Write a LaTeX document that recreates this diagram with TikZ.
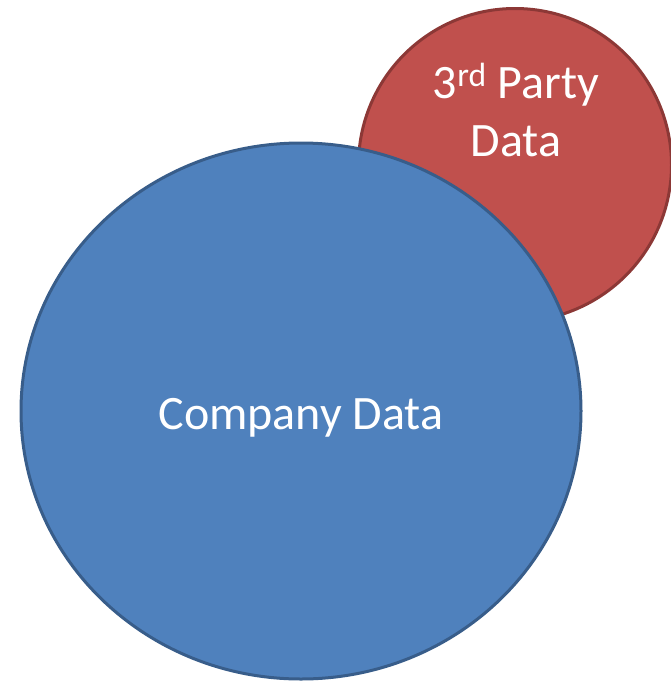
\documentclass[tikz,border=0pt]{standalone}
\usepackage{fontspec}
\setmainfont{Carlito}
\usepackage{tikz}
\usetikzlibrary{shapes.geometric}
\definecolor{partyred}{RGB}{192,80,77}
\definecolor{partyredline}{RGB}{140,56,54}
\definecolor{companyblue}{RGB}{79,129,189}
\definecolor{companyblueline}{RGB}{56,93,138}

\begin{document}
\begin{tikzpicture}[x=0.75pt,y=-0.75pt, every node/.style={font=\fontsize{36}{44}\selectfont,text=white,align=center}]
\useasboundingbox (0,0) rectangle (671,682);
\node[draw=partyredline,fill=partyred,line width=2.25pt,circle,minimum size=313*0.75pt] (party) at (515,165) {};
\node[draw=companyblueline,fill=companyblue,line width=2.25pt,ellipse,minimum width=560*0.75pt,minimum height=536*0.75pt] (company) at (301,411) {};
\node (partytxt) at (516,110) {3\textsuperscript{rd} Party\\Data};
\node[anchor=base] (companytxt) at (301,429) {Company Data};
\end{tikzpicture}
\end{document}
